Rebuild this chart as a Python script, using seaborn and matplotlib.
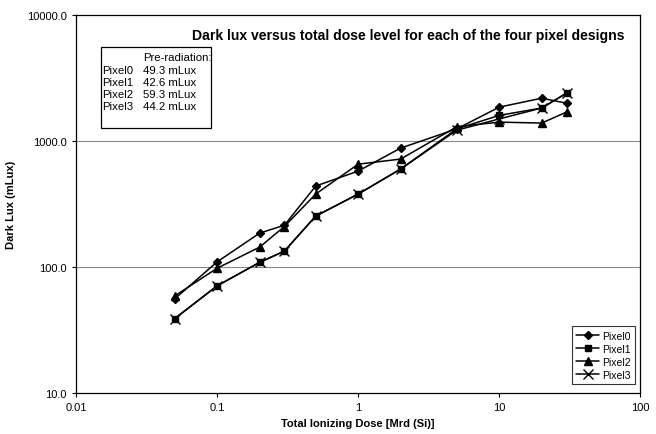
import numpy as np
import pandas as pd
import seaborn as sns
import matplotlib.pyplot as plt

# dose levels [Mrd (Si)]
dose = [0.05, 0.1, 0.2, 0.3, 0.5, 1, 2, 5, 10, 20, 30]

# dark lux (mLux) per pixel design
pixel0 = [56, 110, 186, 215, 440, 578, 880, 1250, 1860, 2190, 2000]
pixel1 = [39, 71, 109, 134, 254, 380, 600, 1250, 1600, 1830, 2400]
pixel2 = [59, 98, 144, 210, 380, 656, 720, 1300, 1415, 1390, 1700]
pixel3 = [39, 71, 109, 134, 254, 380, 600, 1220, 1500, 1830, 2400]

names = ['Pixel0', 'Pixel1', 'Pixel2', 'Pixel3']
pre_rad = ['49.3 mLux', '42.6 mLux', '59.3 mLux', '44.2 mLux']

y_ticks = [10, 100, 1000, 10000]
y_ticklabels = ['10.0', '100.0', '1000.0', '10000.0']
x_ticks = [0.01, 0.1, 1, 10, 100]
x_ticklabels = ['0.01', '0.1', '1', '10', '100']

df = pd.concat([
    pd.DataFrame({'dose': dose, 'lux': vals, 'pixel': name})
    for name, vals in zip(names, [pixel0, pixel1, pixel2, pixel3])
])

sns.set_style('white')
plt.rcParams['font.family'] = ['Liberation Sans', 'DejaVu Sans']
plt.rcParams['text.color'] = 'black'
plt.rcParams['axes.labelcolor'] = 'black'

fig, ax = plt.subplots(figsize=(6.56, 4.35), dpi=100)
fig.subplots_adjust(left=0.116, right=0.976, top=0.963, bottom=0.094)

markers = {'Pixel0': 'D', 'Pixel1': 's', 'Pixel2': '^', 'Pixel3': 'x'}
sizes = {'Pixel0': 4.5, 'Pixel1': 4.5, 'Pixel2': 5.5, 'Pixel3': 7}
for name in names:
    sub = df[df['pixel'] == name]
    sns.lineplot(data=sub, x='dose', y='lux', ax=ax, color='black',
                 marker=markers[name], markersize=sizes[name],
                 markeredgecolor='black', markeredgewidth=1.0,
                 linewidth=1.1, label=name)

ax.set_xscale('log')
ax.set_yscale('log')
ax.set_xlim(0.01, 100)
ax.set_ylim(10, 10000)
ax.set_xticks(x_ticks)
ax.set_xticklabels(x_ticklabels)
ax.set_yticks(y_ticks)
ax.set_yticklabels(y_ticklabels)
ax.minorticks_off()
ax.tick_params(axis='both', labelsize=8, length=3, direction='out',
               left=True, bottom=True, colors='black')

# only horizontal gridlines at the inner decades
for v in [100, 1000]:
    ax.axhline(v, color='#888888', linewidth=0.8, zorder=0)

for side in ['left', 'right', 'top', 'bottom']:
    ax.spines[side].set_color('black')
    ax.spines[side].set_linewidth(0.9)

ax.set_xlabel('Total Ionizing Dose [Mrd (Si)]', fontsize=8, fontweight='bold')
ax.set_ylabel('Dark Lux (mLux)', fontsize=8, fontweight='bold', labelpad=8)

ax.text(0.588, 0.948, 'Dark lux versus total dose level for each of the four pixel designs',
        transform=ax.transAxes, ha='center', va='center', fontsize=10.1, fontweight='bold')

# pre-radiation table
ax.text(0.118, 0.888, 'Pre-radiation:', transform=ax.transAxes, fontsize=8.2, va='center')
for i, (name, val) in enumerate(zip(names, pre_rad)):
    yy = 0.856 - i * 0.032
    ax.text(0.047, yy, name, transform=ax.transAxes, fontsize=8.2, va='center')
    ax.text(0.118, yy, val, transform=ax.transAxes, fontsize=8.2, va='center')
box = plt.Rectangle((0.044, 0.702), 0.195, 0.214, transform=ax.transAxes,
                    fill=False, edgecolor='black', linewidth=0.9)
ax.add_patch(box)

leg = ax.legend(loc='lower right', bbox_to_anchor=(1.0, 0.01), fontsize=7.5,
                frameon=True, fancybox=False, handlelength=2.2, borderpad=0.4,
                labelspacing=0.3, handletextpad=0.3)
leg.get_frame().set_edgecolor('black')
leg.get_frame().set_linewidth(0.8)

fig.savefig('out.png', dpi=100)
